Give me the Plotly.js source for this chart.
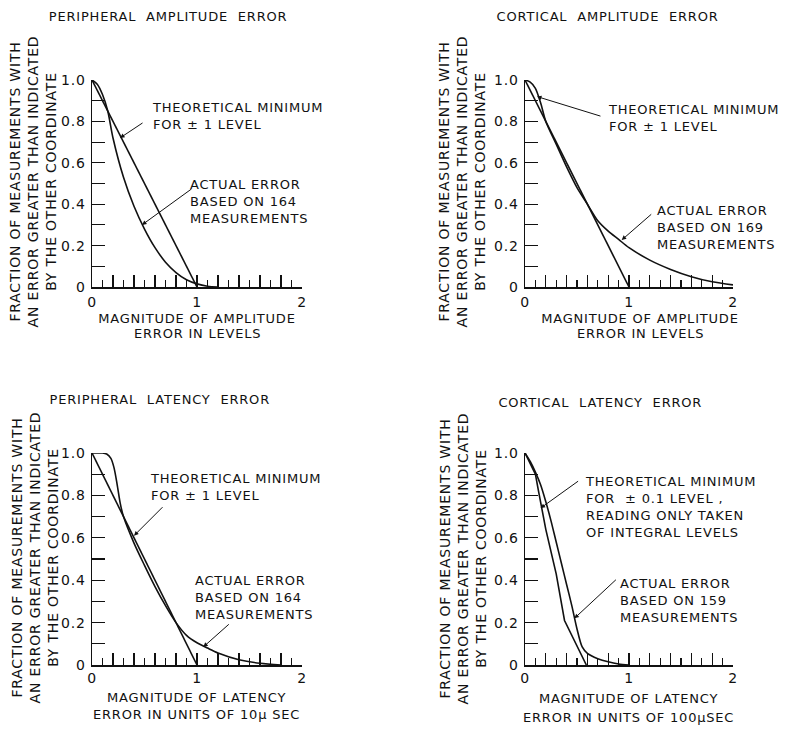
<!DOCTYPE html>
<html>
<head>
<meta charset="utf-8">
<script src="https://cdn.plot.ly/plotly-3.0.1.min.js"></script>
<style>
html,body{margin:0;padding:0;background:#fff;}
.main-svg text{letter-spacing:0.8px;}
</style>
</head>
<body>
<div id="chart" style="width:789px;height:734px;"></div>
<script>
// ---- data ----
const xTickVals = [0, 0.2, 0.4, 0.6, 0.8, 1.0, 1.2, 1.4, 1.6, 1.8, 2.0];
const xTickText = ['0', '', '', '', '', '1', '', '', '', '', '2'];
const yTickVals = [0, 0.1, 0.2, 0.3, 0.4, 0.5, 0.6, 0.7, 0.8, 0.9, 1.0];
const yTickText = ['0', '', '0.2', '', '0.4', '', '0.6', '', '0.8', '', '1.0'];

// Peripheral amplitude error
const p1TheoX = [0, 1];
const p1TheoY = [1, 0];
const p1ActX = [0, 0.05, 0.1, 0.15, 0.2, 0.3, 0.4, 0.5, 0.6, 0.7, 0.8, 0.9, 1.0, 1.1, 1.2];
const p1ActY = [1.0, 0.98, 0.93, 0.85, 0.72, 0.53, 0.39, 0.28, 0.19, 0.12, 0.07, 0.035, 0.015, 0.004, 0];

// Cortical amplitude error
const p2TheoX = [0, 1];
const p2TheoY = [1, 0];
const p2ActX = [0, 0.05, 0.1, 0.15, 0.2, 0.3, 0.4, 0.5, 0.6, 0.7, 0.8, 0.9, 1.0, 1.2, 1.4, 1.6, 1.8, 2.0];
const p2ActY = [1.0, 0.99, 0.96, 0.89, 0.80, 0.69, 0.58, 0.48, 0.40, 0.32, 0.27, 0.23, 0.19, 0.13, 0.085, 0.05, 0.025, 0.01];

// Peripheral latency error
const p3TheoX = [0, 1];
const p3TheoY = [1, 0];
const p3ActX = [0, 0.05, 0.1, 0.14, 0.18, 0.21, 0.24, 0.27, 0.3, 0.4, 0.5, 0.6, 0.7, 0.8, 0.9, 1.0, 1.1, 1.2, 1.4, 1.6, 1.8];
const p3ActY = [1.0, 1.0, 1.0, 0.995, 0.975, 0.93, 0.85, 0.76, 0.70, 0.575, 0.47, 0.37, 0.28, 0.2, 0.14, 0.105, 0.08, 0.057, 0.025, 0.008, 0.0];

// Cortical latency error
const p4TheoX = [0, 0.1, 0.13, 0.2, 0.3, 0.38, 0.59];
const p4TheoY = [1, 0.9, 0.82, 0.64, 0.43, 0.21, 0];
const p4ActX = [0, 0.05, 0.1, 0.15, 0.2, 0.25, 0.3, 0.35, 0.4, 0.45, 0.5, 0.55, 0.6, 0.7, 0.8, 0.9, 1.0];
const p4ActY = [1, 0.96, 0.91, 0.85, 0.77, 0.68, 0.58, 0.48, 0.38, 0.28, 0.17, 0.085, 0.055, 0.03, 0.015, 0.005, 0];

const panelTitles = ['PERIPHERAL  AMPLITUDE  ERROR', 'CORTICAL  AMPLITUDE  ERROR', 'PERIPHERAL  LATENCY  ERROR', 'CORTICAL  LATENCY  ERROR'];
const xTitleLine1 = ['MAGNITUDE OF AMPLITUDE', 'MAGNITUDE OF AMPLITUDE', 'MAGNITUDE OF LATENCY', 'MAGNITUDE OF LATENCY'];
const xTitleLine2 = ['ERROR IN LEVELS', 'ERROR IN LEVELS', 'ERROR IN UNITS OF 10\u03bc SEC', 'ERROR IN UNITS OF 100\u03bcSEC'];
const yTitle = 'FRACTION OF MEASUREMENTS WITH<br>AN ERROR GREATER THAN INDICATED<br>BY THE OTHER COORDINATE';
const theoLabels = ['THEORETICAL MINIMUM<br>FOR \u00b1 1 LEVEL', 'THEORETICAL MINIMUM<br>FOR \u00b1 1 LEVEL',
                    'THEORETICAL MINIMUM<br>FOR \u00b1 1 LEVEL', 'THEORETICAL MINIMUM<br>FOR  \u00b1 0.1 LEVEL ,<br>READING ONLY TAKEN<br>OF INTEGRAL LEVELS'];
const actLabels = ['ACTUAL ERROR<br>BASED ON 164<br>MEASUREMENTS', 'ACTUAL ERROR<br>BASED ON 169<br>MEASUREMENTS',
                   'ACTUAL ERROR<br>BASED ON 164<br>MEASUREMENTS', 'ACTUAL ERROR<br>BASED ON 159<br>MEASUREMENTS'];

// ---- layout helpers ----
const W = 789, H = 734;
const PX = v => v / W;
const PY = v => 1 - v / H;
const FONT = 'DejaVu Sans, Verdana, sans-serif';
const INK = '#111';

const panels = [
  {xd: [PX(92), PX(302)], yd: [PY(287), PY(80)]},
  {xd: [PX(525), PX(733)], yd: [PY(287), PY(80)]},
  {xd: [PX(92), PX(302)], yd: [PY(665), PY(453)]},
  {xd: [PX(525), PX(733)], yd: [PY(665), PY(453)]}
];

function xAxis(i) {
  return {
    domain: panels[i].xd, anchor: 'y' + (i ? i + 1 : ''), range: [0, 2],
    showline: true, linecolor: INK, linewidth: 1.5, showgrid: false, zeroline: false,
    ticks: 'inside', tickmode: 'array', tickvals: xTickVals, ticktext: xTickText,
    ticklen: 12, tickwidth: 1.1, tickcolor: INK, ticklabelstandoff: i >= 2 ? 0 : 2,
    minor: {ticks: 'inside', tickmode: 'linear', tick0: 0, dtick: 0.1, ticklen: 7, tickwidth: 1.1, tickcolor: INK, showgrid: false},
    tickfont: {family: FONT, size: 14, color: INK}, fixedrange: true
  };
}
function yAxis(i) {
  return {
    domain: panels[i].yd, anchor: 'x' + (i ? i + 1 : ''), range: [0, 1],
    showline: true, linecolor: INK, linewidth: 1.5, showgrid: false, zeroline: false,
    ticks: 'inside', tickmode: 'array', tickvals: yTickVals, ticktext: yTickText,
    ticklen: 13, tickwidth: 1.1, tickcolor: INK, ticklabelstandoff: 2,
    tickfont: {family: FONT, size: 14, color: INK}, fixedrange: true
  };
}

const series = [
  [p1TheoX, p1TheoY, p1ActX, p1ActY],
  [p2TheoX, p2TheoY, p2ActX, p2ActY],
  [p3TheoX, p3TheoY, p3ActX, p3ActY],
  [p4TheoX, p4TheoY, p4ActX, p4ActY]
];

const traces = [];
series.forEach((s, i) => {
  const xa = 'x' + (i ? i + 1 : ''), ya = 'y' + (i ? i + 1 : '');
  traces.push({x: s[0], y: s[1], xaxis: xa, yaxis: ya, mode: 'lines', line: {color: INK, width: 1.6}, hoverinfo: 'skip'});
  traces.push({x: s[2], y: s[3], xaxis: xa, yaxis: ya, mode: 'lines', line: {color: INK, width: 1.6, shape: 'spline', smoothing: 0.8}, hoverinfo: 'skip'});
});

const tf = {family: FONT, size: 13, color: INK};
const annotations = [];

// panel titles
const titlePos = [[58, 17], [505, 17], [58, 399], [506, 402]];
panelTitles.forEach((t, i) => annotations.push({
  text: t, xref: 'paper', yref: 'paper', x: PX(titlePos[i][0]), y: PY(titlePos[i][1]),
  xanchor: 'left', yanchor: 'middle', showarrow: false, font: tf
}));

// x axis titles, one annotation per line: [centreX, line1Y, line2Y]
const xtPos = [[197, 318, 334], [640, 318, 334], [196, 697, 714], [628, 698, 717]];
xtPos.forEach((p, i) => {
  annotations.push({
    text: xTitleLine1[i], xref: 'paper', yref: 'paper', x: PX(p[0]), y: PY(p[1]),
    xanchor: 'center', yanchor: 'middle', showarrow: false, font: tf
  });
  annotations.push({
    text: xTitleLine2[i], xref: 'paper', yref: 'paper', x: PX(p[0]), y: PY(p[2]),
    xanchor: 'center', yanchor: 'middle', showarrow: false, font: tf
  });
});

// y axis titles (rotated)
const ytPos = [[33, 182], [462, 182], [35, 558], [463, 558]];
ytPos.forEach(p => annotations.push({
  text: yTitle, xref: 'paper', yref: 'paper', x: PX(p[0]), y: PY(p[1]),
  xanchor: 'center', yanchor: 'middle', textangle: -90, showarrow: false,
  font: {family: FONT, size: 14, color: INK}, align: 'center'
}));

// curve labels
const theoPos = [[150, 116], [606, 118], [148, 487], [583, 507]];
const actPos = [[188, 201], [655, 227], [193, 597], [618, 600]];
theoLabels.forEach((t, i) => annotations.push({
  text: t, xref: 'paper', yref: 'paper', x: PX(theoPos[i][0]), y: PY(theoPos[i][1]),
  xanchor: 'left', yanchor: 'middle', showarrow: false, font: tf, align: 'left'
}));
actLabels.forEach((t, i) => annotations.push({
  text: t, xref: 'paper', yref: 'paper', x: PX(actPos[i][0]), y: PY(actPos[i][1]),
  xanchor: 'left', yanchor: 'middle', showarrow: false, font: tf, align: 'left'
}));

// arrows: [panel, tipX, tipY, ax, ay]
const arrows = [
  [0, 0.267, 0.72, 24, -16],
  [0, 0.476, 0.30, 51, -37],
  [1, 0.115, 0.92, 65, 20],
  [1, 0.93, 0.227, 31, -27],
  [2, 0.40, 0.61, 30, -30],
  [2, 1.06, 0.085, 27, -24],
  [3, 0.15, 0.74, 39, -28],
  [3, 0.475, 0.22, 43, -40]
];
arrows.forEach(a => annotations.push({
  text: '', xref: 'x' + (a[0] ? a[0] + 1 : ''), yref: 'y' + (a[0] ? a[0] + 1 : ''),
  x: a[1], y: a[2], ax: a[3], ay: a[4], showarrow: true,
  arrowhead: 2, arrowsize: 0.9, arrowwidth: 1, arrowcolor: INK, standoff: 0
}));

const layout = {
  width: W, height: H, margin: {l: 0, r: 0, t: 0, b: 0},
  paper_bgcolor: '#fff', plot_bgcolor: '#fff', showlegend: false,
  font: {family: FONT, color: INK},
  annotations: annotations
};
for (let i = 0; i < 4; i++) {
  layout['xaxis' + (i ? i + 1 : '')] = xAxis(i);
  layout['yaxis' + (i ? i + 1 : '')] = yAxis(i);
}

Plotly.newPlot('chart', traces, layout, {staticPlot: true, displayModeBar: false});
</script>
</body>
</html>
